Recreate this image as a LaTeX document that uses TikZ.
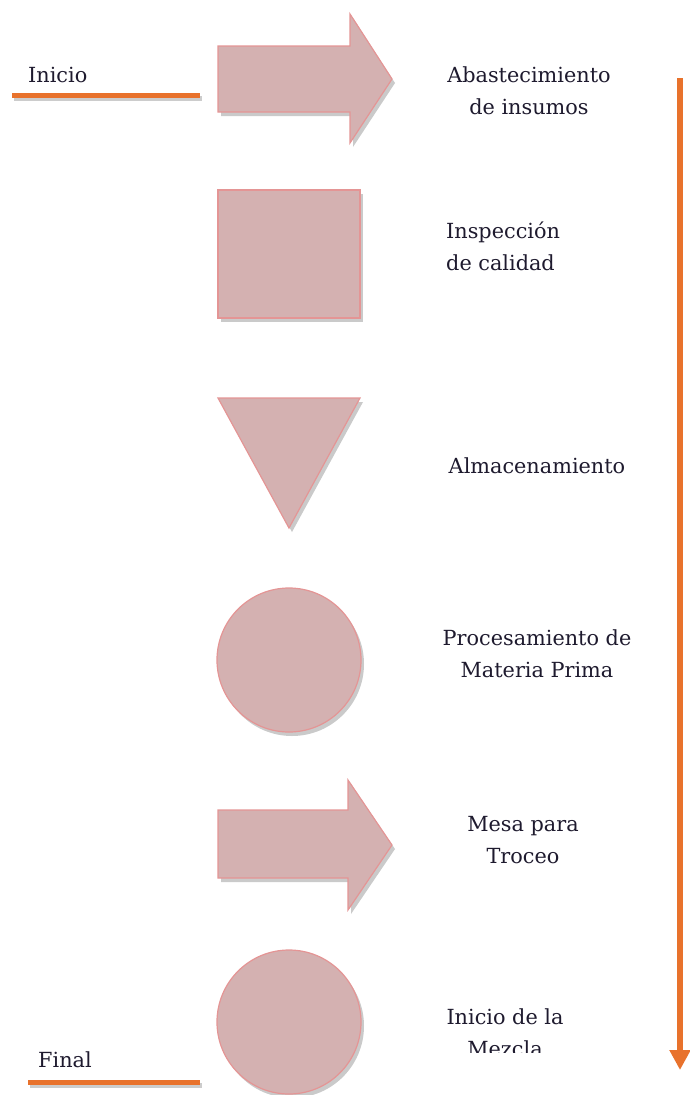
\documentclass[tikz,border=0pt]{standalone}
\usepackage{fontspec}
\setmainfont{DejaVu Serif}
\usetikzlibrary{arrows.meta,shadows}
\definecolor{shapefill}{HTML}{D4B1B1}
\definecolor{shapeedge}{HTML}{E49595}
\definecolor{orangeline}{HTML}{E8722C}
\definecolor{txt}{HTML}{1E1A2E}
\tikzset{
  shapestyle/.style={fill=shapefill, draw=shapeedge, line width=1.2pt, line join=miter,
    drop shadow={shadow xshift=3pt, shadow yshift=-4pt, opacity=0.35, fill=black!60}},
  lbl/.style={font=\fontsize{20.8}{32}\selectfont, text=txt, align=center, inner sep=0pt},
  markline/.style={draw=orangeline, line width=5pt,
    preaction={draw=black!40, line width=5pt, opacity=0.5, transform canvas={xshift=2pt,yshift=-3pt}}},
}
\begin{document}
\begin{tikzpicture}[x=1pt,y=-1pt]
\useasboundingbox (0,0) rectangle (689,1095);
% start / end markers
\node[lbl, anchor=west] (inicio) at (28,75) {Inicio};
\coordinate (i1) at (12,95); \coordinate (i2) at (200,95);
\draw[markline] (i1) -- (i2);
\node[lbl, anchor=west] (final) at (38,1060) {Final};
\coordinate (f1) at (28,1082); \coordinate (f2) at (200,1082);
\draw[markline] (f1) -- (f2);
% arrow 1
\path[shapestyle] (218,46) -- (350,46) -- (350,14) -- (392,79) -- (350,143) -- (350,112) -- (218,112) -- cycle;
% square
\path[shapestyle] (218,190) rectangle (360,318);
% triangle
\path[shapestyle] (218,398) -- (360,398) -- (289,528) -- cycle;
% circle 1
\path[shapestyle] (289,660) circle (72);
% arrow 2
\path[shapestyle] (218,810) -- (348,810) -- (348,780) -- (392,845) -- (348,910) -- (348,878) -- (218,878) -- cycle;
% circle 2
\path[shapestyle] (289,1022) circle (72);
% labels
\node[lbl] (abast) at (529,91) {Abastecimiento\\de insumos};
\node[lbl, align=left, anchor=west] (insp) at (446,246) {Inspección\\de calidad};
\node[lbl] (alm) at (537,466) {Almacenamiento};
\node[lbl] (proc) at (537,654) {Procesamiento de\\Materia Prima};
\node[lbl] (mesa) at (523,840) {Mesa para\\Troceo};
\begin{scope}
\clip (400,990) rectangle (620,1052);
\node[lbl] (mezcla) at (505,1033) {Inicio de la\\Mezcla};
\end{scope}
% vertical flow arrow
\coordinate (vtop) at (680,78);
\coordinate (vbot) at (680,1070);
\draw[draw=orangeline, line width=5.5pt, -{Triangle[width=20pt,length=20pt]}] (vtop) -- (vbot);
\end{tikzpicture}
\end{document}
